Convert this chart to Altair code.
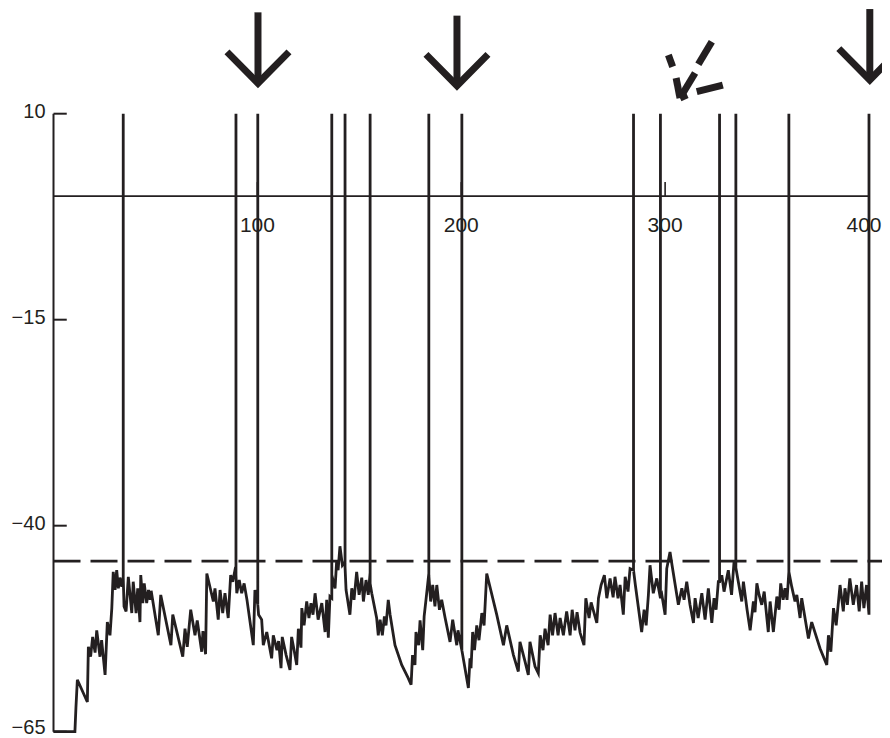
import altair as alt
import pandas as pd

# ---------------- data ----------------
trace_t = [0, 10.5, 11.0, 11.7, 16.6, 17.1, 18.2, 19.2, 20.4, 21.2, 22.8, 23.6, 25.3, 26.4, 27.7, 28.6,
           29.3, 30.2, 31.0, 31.8, 32.6, 33.5, 34.2, 34.2, 34.2, 34.6, 35.6, 36.7, 38.4, 39.1, 40.5,
           41.3, 42.4, 42.8, 43.8, 44.5, 45.7, 46.6, 47.4, 47.9, 51.4, 52.6, 57.6, 58.5, 63.4, 64.5,
           65.6, 67.3, 69.4, 70.5, 72.7, 73.3, 74.6, 75.2, 78.4, 79.2, 80.8, 81.7, 83.0, 84.1, 85.7,
           86.9, 87.9, 89.0, 89.5, 89.5, 89.5, 89.9, 91.1, 92.3, 93.5, 94.9, 98.0, 98.8, 100.2, 100.2,
           100.2, 100.6, 102.1, 102.9, 104.6, 107.0, 107.8, 109.6, 110.4, 111.6, 112.2, 114.1, 116.0,
           116.8, 118.0, 119.3, 120.1, 121.4, 121.8, 122.9, 124.2, 125.3, 126.3, 127.3, 128.3, 129.8,
           131.6, 133.2, 134.0, 134.8, 135.6, 136.5, 136.5, 136.5, 137.1, 138.1, 138.9, 139.6, 140.5,
           141.7, 143.0, 143.0, 143.0, 143.5, 145.4, 146.3, 147.4, 148.7, 149.9, 151.2, 152.0, 153.3,
           154.4, 155.3, 155.3, 155.3, 156.1, 158.5, 159.3, 160.2, 161.3, 162.3, 163.1, 164.2, 165.1,
           167.5, 170.8, 174.0, 175.4, 176.1, 177.3, 177.8, 179.1, 179.8, 181.1, 181.8, 182.7, 183.5,
           184.1, 184.1, 184.1, 185.0, 186.0, 187.1, 188.0, 189.3, 190.4, 192.1, 194.5, 195.8, 197.8,
           198.4, 200.3, 200.3, 200.3, 203.5, 204.3, 204.8, 205.6, 206.5, 207.6, 208.7, 210.1, 211.2,
           212.5, 217.4, 220.7, 222.3, 225.6, 228.0, 228.8, 231.3, 232.9, 233.7, 236.2, 237.8, 238.7,
           240.1, 241.1, 242.6, 243.6, 244.8, 246.0, 247.5, 248.5, 250.1, 251.7, 253.4, 254.4, 255.8,
           256.8, 258.3, 260.2, 261.1, 262.7, 263.7, 266.5, 267.3, 268.6, 270.2, 271.4, 273.0, 274.5,
           275.4, 276.9, 277.9, 279.5, 280.4, 281.8, 282.8, 284.5, 284.5, 284.5, 285.4, 288.5, 289.7,
           290.7, 291.8, 292.6, 294.2, 295.9, 297.7, 297.7, 297.7, 298.4, 300.0, 300.8, 302.4, 303.4,
           306.5, 308.2, 309.3, 310.6, 312.2, 313.9, 314.7, 316.2, 318.0, 319.6, 321.2, 322.9, 324.0,
           325.0, 326.1, 326.7, 326.7, 326.7, 327.8, 328.9, 331.0, 332.6, 333.8, 334.7, 334.7, 334.7,
           335.9, 337.6, 338.4, 340.2, 341.7, 343.3, 344.1, 345.0, 346.1, 347.4, 348.6, 350.6, 351.5,
           353.1, 354.8, 355.9, 356.7, 357.9, 358.8, 359.8, 360.7, 360.7, 360.7, 362.1, 363.7, 364.6,
           366.2, 367.0, 370.3, 371.9, 376.0, 379.3, 380.1, 381.3, 382.6, 383.9, 385.8, 387.4, 388.2,
           389.4, 390.6, 392.3, 393.9, 395.2, 396.4, 397.5, 398.8, 400.0, 400.0]
trace_v = [-65, -65, -62.1, -58.7, -61.4, -54.7, -55.9, -53.5, -55.4, -52.7, -55.9, -53.9, -58.1, -51.7,
           -53.3, -50.0, -45.6, -47.8, -45.4, -47.6, -46.3, -47.4, -46.3, 10, -46.3, -49.8, -50.4,
           -46.2, -50.6, -46.8, -50.6, -47.6, -51.7, -46.0, -49.4, -47.0, -49.4, -47.8, -49.0, -47.9,
           -53.3, -48.4, -54.5, -50.8, -55.9, -52.5, -54.7, -50.2, -53.3, -51.5, -55.3, -52.8, -55.6,
           -45.8, -49.2, -47.6, -51.4, -47.8, -50.6, -48.2, -51.2, -46.0, -46.8, -45.4, -45.6, 10,
           -46.0, -48.2, -46.6, -48.2, -47.0, -49.0, -54.5, -47.8, -49.6, 10, -49.6, -50.8, -51.4,
           -54.5, -52.9, -56.1, -53.3, -55.1, -54.0, -57.3, -53.5, -55.7, -57.5, -53.5, -55.1, -56.9,
           -52.5, -54.8, -50.0, -52.1, -49.2, -51.2, -49.4, -50.8, -48.2, -51.4, -49.4, -52.9, -49.0,
           -53.6, -48.6, -48.8, 10, -47.0, -46.6, -47.6, -44.2, -45.4, -42.5, -44.8, -44.4, 10, -45.0,
           -47.8, -50.8, -47.6, -49.0, -45.6, -48.4, -46.3, -49.2, -46.6, -48.4, -45.7, 10, -47.0,
           -48.2, -51.2, -53.3, -51.4, -53.3, -51.0, -52.1, -49.0, -50.8, -54.5, -56.9, -58.5, -59.3,
           -55.7, -56.9, -52.9, -54.5, -51.5, -55.1, -51.0, -49.0, -47.2, -45.8, 10, -46.0, -49.2,
           -47.2, -49.8, -47.2, -50.2, -49.0, -51.2, -54.1, -51.4, -54.5, -52.7, -55.1, 10, -55.1,
           -59.7, -56.1, -57.3, -52.9, -55.1, -52.1, -53.9, -50.6, -52.1, -45.8, -50.8, -54.5, -52.1,
           -55.7, -57.7, -54.1, -56.5, -58.1, -54.1, -57.1, -57.9, -53.3, -55.1, -52.5, -54.5, -50.8,
           -53.3, -50.6, -53.3, -51.2, -53.3, -50.4, -53.3, -50.2, -52.7, -50.5, -53.0, -54.5, -48.8,
           -51.2, -49.3, -51.8, -48.8, -47.2, -46.0, -48.8, -46.4, -48.7, -46.2, -48.8, -47.2, -50.8,
           -46.2, -48.0, -45.2, -45.4, 10, -45.4, -47.2, -52.9, -50.2, -52.1, -48.4, -44.8, -48.2,
           -46.4, -48.8, 10, -48.8, -48.4, -50.8, -45.2, -43.2, -44.8, -49.6, -47.6, -49.0, -46.8,
           -49.6, -51.8, -48.8, -51.2, -48.2, -51.4, -47.6, -51.8, -48.8, -50.2, -46.8, -46.8, 10,
           -46.8, -46.0, -48.0, -45.4, -48.4, -44.4, -45.1, 10, -45.1, -46.8, -49.2, -46.8, -50.2,
           -52.7, -49.2, -50.5, -47.0, -48.4, -49.6, -48.0, -52.9, -49.2, -52.9, -48.6, -50.2, -47.0,
           -49.0, -47.6, -49.0, -45.6, 10, -45.6, -47.4, -49.2, -48.4, -51.2, -48.8, -53.7, -51.7,
           -54.9, -56.9, -53.3, -55.3, -50.0, -52.1, -47.2, -50.4, -47.6, -49.6, -46.4, -49.6, -47.2,
           -50.4, -46.8, -50.0, -47.2, -50.8, 10]

threshold = -44.3
threshold_end = 409

x_ticks = [100, 200, 300, 400]
x_labels = ["100", "200", "300", "400"]
y_ticks = [10, -15, -40, -65]
y_labels = ["10", "\u221215", "\u221240", "\u221265"]

# solid arrows (stimulus markers), in data units
arrow_t = [100.3, 197.9, 400.4]
arrow_top = [22.3, 21.9, 22.7]
arrow_tip = [13.7, 13.4, 14.1]
wing_dt = 15.2
wing_dv = 3.8

# dashed arrow pieces (start t, start v, end t, end v)
dash_t1 = [307.3, 316.3, 307.3, 303.7, 307.3, 315.5]
dash_v1 = [11.9, 16.0, 11.9, 15.7, 11.9, 12.67]
dash_t2 = [314.7, 322.9, 305.4, 301.6, 310.8, 328.3]
dash_v2 = [14.94, 18.74, 14.33, 17.12, 12.28, 13.48]

# ---------------- chart ----------------
INK = "#231f20"
FONT = "Liberation Sans"
xs = alt.Scale(domain=[0, 400], nice=False, zero=False)
ys = alt.Scale(domain=[-65, 10], nice=False, zero=False)

trace_df = pd.DataFrame({"t": trace_t, "v": trace_v, "i": range(len(trace_t))})

zero_line = alt.Chart(pd.DataFrame({"a": [0], "b": [400], "y": [0]})).mark_rule(
    color=INK, strokeWidth=1.6).encode(
    x=alt.X("a:Q", scale=xs, axis=None), x2="b:Q", y=alt.Y("y:Q", scale=ys, axis=None))

y_axis_line = alt.Chart(pd.DataFrame({"x": [0], "a": [-65], "b": [10]})).mark_rule(
    color=INK, strokeWidth=2).encode(
    x=alt.X("x:Q", scale=xs, axis=None), y=alt.Y("a:Q", scale=ys, axis=None), y2="b:Q")

ytick_df = pd.DataFrame({"v": y_ticks, "lab": y_labels, "x0": 0, "x1": 6.5})
y_tick_marks = alt.Chart(ytick_df).mark_rule(color=INK, strokeWidth=2).encode(
    x=alt.X("x0:Q", scale=xs, axis=None), x2="x1:Q", y=alt.Y("v:Q", scale=ys, axis=None))
y_tick_labels = alt.Chart(ytick_df.iloc[:-1]).mark_text(
    align="right", baseline="middle", dx=-8, dy=-1.5, fontSize=20, font=FONT, color=INK).encode(
    x=alt.X("x0:Q", scale=xs, axis=None), y=alt.Y("v:Q", scale=ys, axis=None), text="lab:N")
# bottom label nudged up slightly so it stays inside the page
y_tick_label_last = alt.Chart(ytick_df.iloc[-1:]).mark_text(
    align="right", baseline="middle", dx=-8, dy=-3.5, fontSize=20, font=FONT, color=INK).encode(
    x=alt.X("x0:Q", scale=xs, axis=None), y=alt.Y("v:Q", scale=ys, axis=None), text="lab:N")

xtick_df = pd.DataFrame({"t": x_ticks, "lab": x_labels, "y0": 0, "y1": 1.7})
x_tick_marks = alt.Chart(xtick_df).mark_rule(color=INK, strokeWidth=1.6).encode(
    x=alt.X("t:Q", scale=xs, axis=None), y=alt.Y("y0:Q", scale=ys, axis=None), y2="y1:Q")
x_tick_labels = alt.Chart(xtick_df.iloc[:-1]).mark_text(
    align="center", baseline="alphabetic", dy=35.5, fontSize=21, font=FONT, color=INK).encode(
    x=alt.X("t:Q", scale=xs, axis=None), y=alt.Y("y0:Q", scale=ys, axis=None), text="lab:N")
# last label nudged left so it stays inside the page
x_tick_label_last = alt.Chart(xtick_df.iloc[-1:]).mark_text(
    align="center", baseline="alphabetic", dx=-5, dy=35.5, fontSize=21, font=FONT, color=INK).encode(
    x=alt.X("t:Q", scale=xs, axis=None), y=alt.Y("y0:Q", scale=ys, axis=None), text="lab:N")

thr_line = alt.Chart(pd.DataFrame({"a": [0], "b": [threshold_end], "y": [threshold]})).mark_rule(
    color=INK, strokeWidth=2.6, strokeDash=[27, 10]).encode(
    x=alt.X("a:Q", scale=xs, axis=None), x2="b:Q", y=alt.Y("y:Q", scale=ys, axis=None))

trace = alt.Chart(trace_df).mark_line(color=INK, strokeWidth=2.8, strokeJoin="miter").encode(
    x=alt.X("t:Q", scale=xs, axis=None), y=alt.Y("v:Q", scale=ys, axis=None), order="i:Q")

shaft_df = pd.DataFrame({"t": arrow_t, "top": arrow_top, "tip": arrow_tip})
shafts = alt.Chart(shaft_df).mark_rule(color=INK, strokeWidth=7, strokeCap="butt").encode(
    x=alt.X("t:Q", scale=xs, axis=None), y=alt.Y("top:Q", scale=ys, axis=None), y2="tip:Q")

head_rows = []
for k, (t, tip) in enumerate(zip(arrow_t, arrow_tip)):
    head_rows.append({"a": k, "o": 0, "t": t - wing_dt, "v": tip + wing_dv})
    head_rows.append({"a": k, "o": 1, "t": t, "v": tip})
    head_rows.append({"a": k, "o": 2, "t": t + wing_dt, "v": tip + wing_dv})
heads = alt.Chart(pd.DataFrame(head_rows)).mark_line(
    color=INK, strokeWidth=7, strokeJoin="miter", strokeCap="butt", strokeMiterLimit=10).encode(
    x=alt.X("t:Q", scale=xs, axis=None), y=alt.Y("v:Q", scale=ys, axis=None),
    detail="a:N", order="o:Q")

dash_df = pd.DataFrame({"t1": dash_t1, "v1": dash_v1, "t2": dash_t2, "v2": dash_v2})
dashed_arrow = alt.Chart(dash_df).mark_rule(color=INK, strokeWidth=7, strokeCap="butt").encode(
    x=alt.X("t1:Q", scale=xs, axis=None), y=alt.Y("v1:Q", scale=ys, axis=None),
    x2="t2:Q", y2="v2:Q")

chart = alt.layer(
    zero_line, y_axis_line, y_tick_marks, y_tick_labels, y_tick_label_last, x_tick_marks,
    x_tick_labels, x_tick_label_last, thr_line, trace, shafts, heads, dashed_arrow
).properties(
    width=815.5, height=618,
    padding={"left": 45.5, "top": 105.7, "right": 13, "bottom": 6},
    autosize=alt.AutoSizeParams(type="none"),
).configure_view(strokeWidth=0)

chart.save("out.html", embed_options={"renderer": "svg", "actions": False})
